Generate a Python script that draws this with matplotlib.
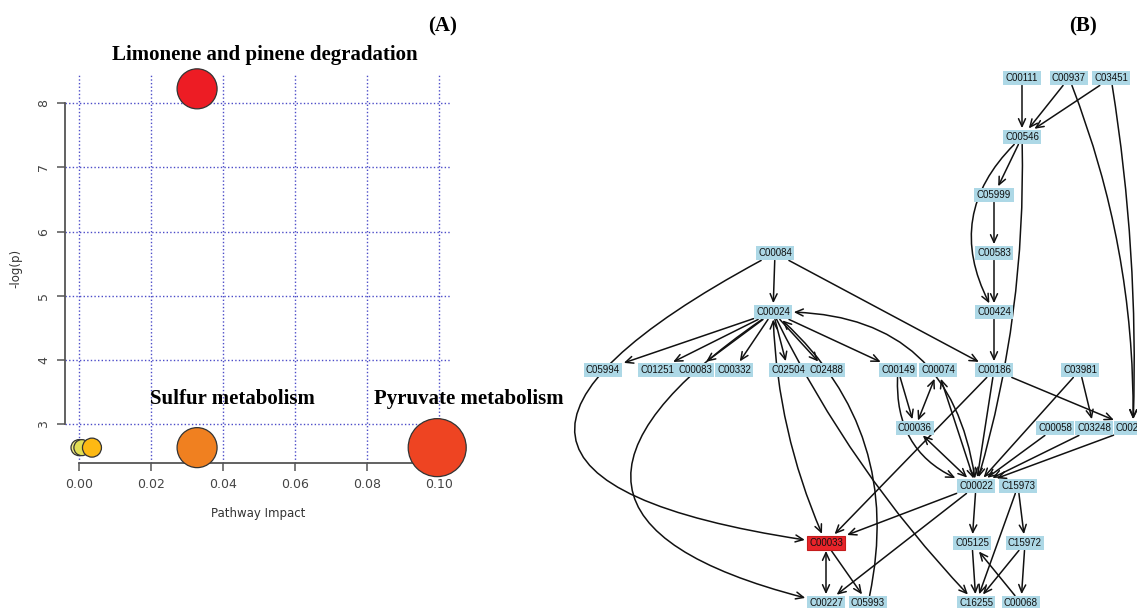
import numpy as np
import matplotlib
matplotlib.use("Agg")
import matplotlib.pyplot as plt

# ---------------------------------------------------
# Panel A: pathway impact vs -log(p)
impact = [0.0000, 0.0008, 0.0036, 0.0328, 0.0328, 0.0995]
neg_log_p = [2.64, 2.64, 2.64, 2.64, 8.22, 2.64]
bubble_px = [16, 16, 19, 40, 40, 58]  # diameters as drawn
bubble_col = ['#F3EE85', '#E2DE55', '#FDB913', '#F08020', '#ED1C24', '#EE4422']

pathway_names = ['Limonene and pinene degradation', 'Sulfur metabolism', 'Pyruvate metabolism']
name_x = [0.0517, 0.0197, 0.0819]
name_y = [8.75, 3.40, 3.40]
name_ha = ['center', 'left', 'left']

x_ticks = [0.00, 0.02, 0.04, 0.06, 0.08, 0.10]
y_ticks = [3, 4, 5, 6, 7, 8]

# ---------------------------------------------------
# Panel B: compound network (KEGG ids), layout in pixel-like units
layout = {
    'C00111': (1022, 78), 'C00937': (1069, 78), 'C03451': (1111, 78),
    'C00546': (1022, 137),
    'C05999': (994, 195),
    'C00084': (775, 253), 'C00583': (994, 253),
    'C00024': (773, 312), 'C00424': (994, 312),
    'C05994': (603, 370), 'C01251': (657, 370), 'C00083': (695, 370),
    'C00332': (734, 370), 'C02504': (788, 370), 'C02488': (826, 370),
    'C00149': (898, 370), 'C00074': (938, 370), 'C00186': (994, 370),
    'C03981': (1080, 370),
    'C00036': (915, 428), 'C00058': (1055, 428), 'C03248': (1094, 428),
    'C00295': (1133, 428),
    'C00022': (976, 486), 'C15973': (1018, 486),
    'C00033': (826, 543), 'C05125': (972, 543), 'C15972': (1025, 543),
    'C00227': (826, 603), 'C05993': (868, 603), 'C16255': (976, 603),
    'C00068': (1021, 603),
}
highlight = ['C00033']

edges = [
    ('C00111', 'C00546'), ('C00937', 'C00546'), ('C03451', 'C00546'),
    ('C00937', 'C00295'), ('C03451', 'C00295'),
    ('C00546', 'C05999'), ('C00546', 'C00424'), ('C00546', 'C00022'),
    ('C05999', 'C00583'), ('C00583', 'C00424'), ('C00424', 'C00186'),
    ('C00084', 'C00024'), ('C00084', 'C00186'), ('C00084', 'C00033'),
    ('C00024', 'C05994'), ('C00024', 'C01251'), ('C00024', 'C00083'),
    ('C00024', 'C00332'), ('C00024', 'C02504'), ('C00024', 'C02488'),
    ('C00024', 'C00149'), ('C00024', 'C00227'), ('C00024', 'C00033'),
    ('C05993', 'C00024'), ('C00024', 'C16255'), ('C00022', 'C00024'),
    ('C00149', 'C00036'), ('C00149', 'C00022'), ('C00036', 'C00074'),
    ('C00022', 'C00074'), ('C00036', 'C00022'),
    ('C00186', 'C00033'), ('C00186', 'C00022'), ('C00186', 'C00295'),
    ('C03981', 'C00022'), ('C03981', 'C03248'),
    ('C00058', 'C00022'), ('C03248', 'C00022'), ('C00295', 'C00022'),
    ('C00022', 'C00033'), ('C00022', 'C00227'), ('C00022', 'C05125'),
    ('C15973', 'C15972'), ('C15973', 'C16255'), ('C05125', 'C16255'),
    ('C15972', 'C16255'), ('C15972', 'C00068'), ('C00068', 'C05125'),
    ('C00033', 'C00227'), ('C00033', 'C05993'),
]
two_way = {('C00024', 'C00033'), ('C00036', 'C00074'), ('C00022', 'C00074'),
           ('C00036', 'C00022'), ('C00033', 'C00227'), ('C00022', 'C00024')}
# curvature of the bent edges (arc3 rad)
bend = {
    ('C00937', 'C00295'): -0.10, ('C03451', 'C00295'): -0.05,
    ('C00546', 'C00424'): 0.40, ('C00546', 'C00022'): -0.08,
    ('C00084', 'C00033'): 1.55, ('C00024', 'C00227'): 1.15,
    ('C00024', 'C00033'): 0.10, ('C05993', 'C00024'): 0.30,
    ('C00024', 'C16255'): 0.08, ('C00022', 'C00024'): 0.45,
    ('C00149', 'C00022'): 0.40,
}

# ---------------------------------------------------
W, H = 1137, 608
fig = plt.figure(figsize=(W / 100, H / 100), dpi=100)
fig.patch.set_facecolor('white')

# axes box = extent of the dotted grid
x0, x1 = -0.00389, 0.10333
y0, y1 = 2.401, 8.435
ax = fig.add_axes([65 / W, (H - 463) / H, (451 - 65) / W, (463 - 75) / H])
ax.set_xlim(x0, x1)
ax.set_ylim(y0, y1)
ax.set_xticks(x_ticks)
ax.set_xticklabels(['%.2f' % v for v in x_ticks])
ax.set_yticks(y_ticks)
for s in ['top', 'right']:
    ax.spines[s].set_visible(False)
ax.spines['left'].set_bounds(3, 8)
ax.spines['bottom'].set_bounds(0, 0.10)
for s in ['left', 'bottom']:
    ax.spines[s].set_color('#555555')
    ax.spines[s].set_linewidth(1.3)
ax.tick_params(length=5.5, width=1.1, color='#555555', labelcolor='#444444',
               labelsize=9, pad=5)
ax.tick_params(axis='y', labelrotation=90)
for lab in ax.get_yticklabels():
    lab.set_va('center')
ax.grid(True, linestyle=(0, (1, 1.6)), color='#4C4CC8', linewidth=1.0)
ax.set_axisbelow(True)

ax.scatter(impact, neg_log_p, s=[(d * 0.72) ** 2 for d in bubble_px],
           c=bubble_col, edgecolors='#333333', linewidths=0.9,
           zorder=5, clip_on=False)

for name, nx, ny, ha in zip(pathway_names, name_x, name_y, name_ha):
    ax.text(nx, ny, name, ha=ha, va='center', fontsize=15, fontweight='bold',
            family='Liberation Serif', clip_on=False)

fig.text(16 / W, 1 - 268 / H, '-log(p)', rotation=90, ha='center', va='center',
         fontsize=8.5, color='#333333')
fig.text(258 / W, 1 - 514 / H, 'Pathway Impact', ha='center', va='center',
         fontsize=8.5, color='#333333')
fig.text(443 / W, 1 - 26 / H, '(A)', ha='center', va='center', fontsize=15,
         fontweight='bold', family='Liberation Serif')
fig.text(1083 / W, 1 - 26 / H, '(B)', ha='center', va='center', fontsize=15,
         fontweight='bold', family='Liberation Serif')

# ---------------------------------------------------
ax2 = fig.add_axes([560 / W, 0, (W - 560) / W, 1])
ax2.set_xlim(560, W)
ax2.set_ylim(H, 0)
ax2.axis('off')

nodes = {}
for name, (nx, ny) in layout.items():
    fc = '#E8242A' if name in highlight else '#ADD8E6'
    ec = '#C41B1B' if name in highlight else 'none'
    nodes[name] = ax2.text(nx, ny, name, ha='center', va='center', fontsize=7,
                           family=['Liberation Sans Narrow', 'Liberation Sans'],
                           color='#111111', zorder=5, clip_on=False,
                           bbox=dict(boxstyle='square,pad=0.25', fc=fc, ec=ec, lw=0.8))

fig.canvas.draw()  # puts the node boxes in place so arrows can be clipped to them

for src, tgt in edges:
    style = '<->' if (src, tgt) in two_way else '->'
    rad = bend.get((src, tgt), 0.0)
    ax2.annotate('', xy=(0.5, 0.5), xycoords=nodes[tgt],
                 xytext=(0.5, 0.5), textcoords=nodes[src],
                 arrowprops=dict(arrowstyle=style + ',head_length=0.55,head_width=0.25',
                                 color='#111111', lw=1.1,
                                 connectionstyle='arc3,rad=%.2f' % rad,
                                 patchA=nodes[src].get_bbox_patch(),
                                 patchB=nodes[tgt].get_bbox_patch(),
                                 shrinkA=0, shrinkB=1),
                 zorder=4)

fig.savefig('out.png', dpi=100, facecolor='white')
